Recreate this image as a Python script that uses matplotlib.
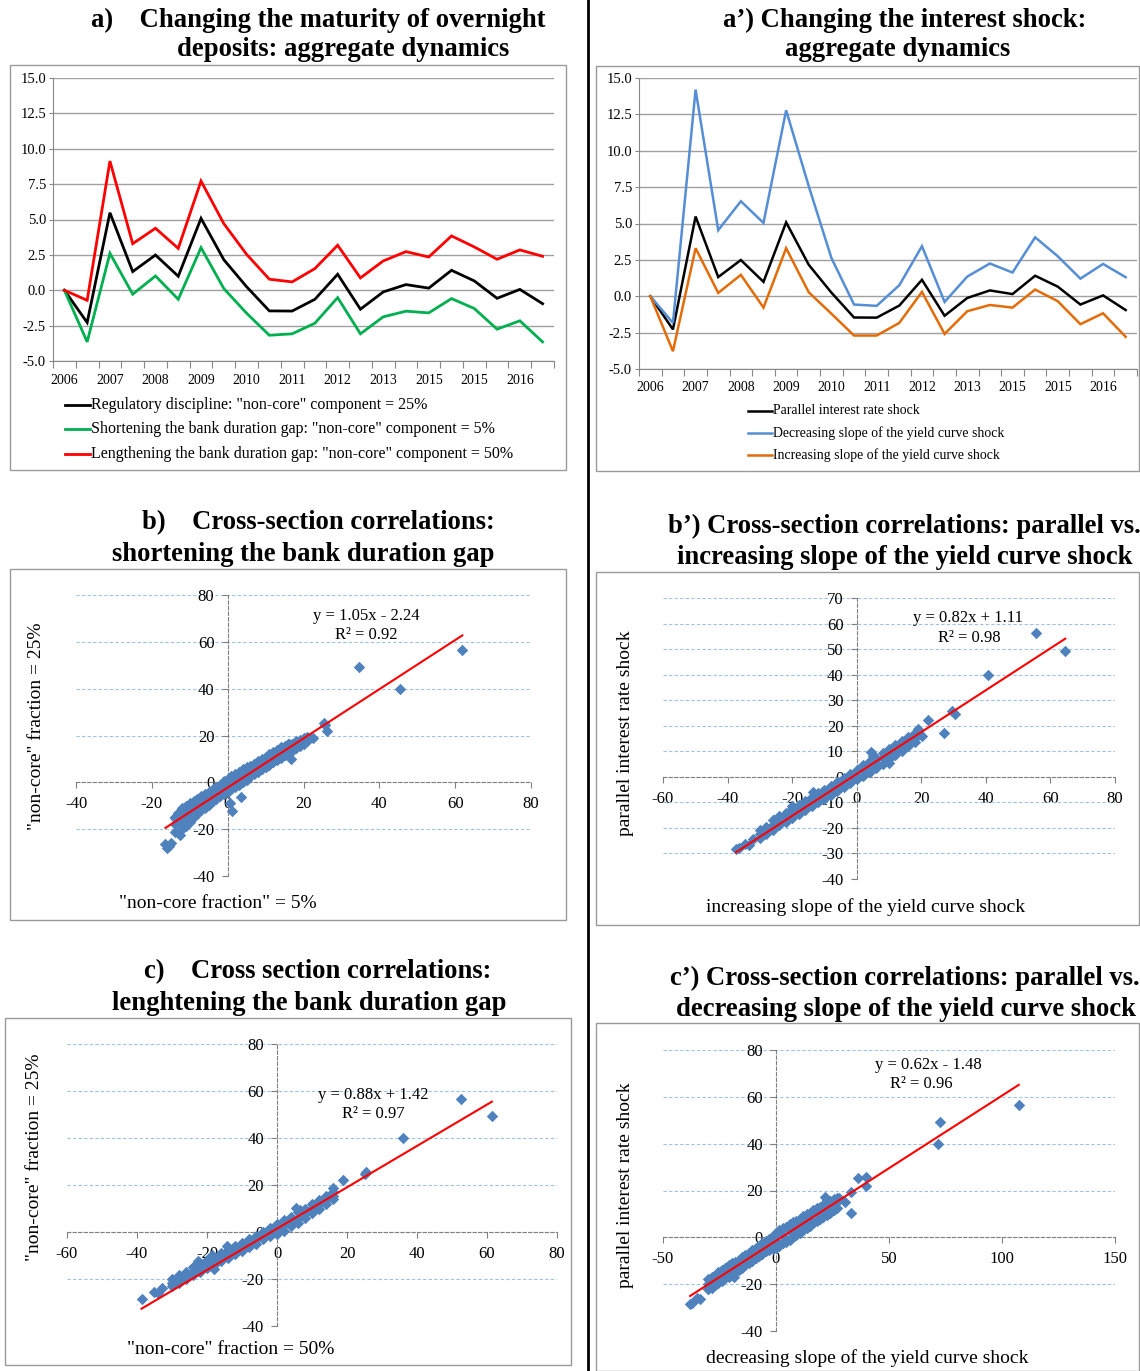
import matplotlib
matplotlib.use("Agg")
import matplotlib.pyplot as plt
from matplotlib.patches import Rectangle
from matplotlib.lines import Line2D

plt.rcParams['font.family'] = ['Liberation Serif', 'DejaVu Serif']

W, H = 1140, 1371
fig = plt.figure(figsize=(W / 100, H / 100), dpi=100)

# ---------------- data: aggregate dynamics ----------------
period_labels = ["2006", "", "2007", "", "2008", "", "2009", "", "2010", "", "2011", "",
                 "2012", "", "2013", "", "2015", "", "2015", "", "2016", ""]
regulatory_25 = [0.0, -2.28, 5.48, 1.32, 2.49, 0.99, 5.08, 2.16, 0.25, -1.46, -1.47, -0.64,
                 1.13, -1.34, -0.12, 0.40, 0.15, 1.41, 0.66, -0.57, 0.06, -0.95]
shortening_5 = [0.0, -3.65, 2.61, -0.28, 1.01, -0.64, 3.01, 0.12, -1.62, -3.18, -3.08, -2.33,
                -0.52, -3.08, -1.88, -1.48, -1.60, -0.59, -1.29, -2.75, -2.16, -3.65]
lengthening_50 = [0.0, -0.71, 9.13, 3.29, 4.38, 2.96, 7.72, 4.71, 2.54, 0.78, 0.59, 1.53,
                  3.18, 0.87, 2.07, 2.73, 2.35, 3.84, 3.06, 2.19, 2.85, 2.40]
decreasing_slope = [0.0, -1.83, 14.2, 4.54, 6.53, 5.04, 12.78, 7.56, 2.63, -0.57, -0.66, 0.76,
                    3.44, -0.39, 1.35, 2.25, 1.63, 4.05, 2.75, 1.21, 2.22, 1.31]
increasing_slope = [0.0, -3.78, 3.30, 0.23, 1.47, -0.78, 3.30, 0.27, -1.20, -2.70, -2.70, -1.83,
                    0.30, -2.59, -1.03, -0.60, -0.78, 0.46, -0.34, -1.92, -1.17, -2.79]
line_yticks = [-5.0, -2.5, 0.0, 2.5, 5.0, 7.5, 10.0, 12.5, 15.0]

legend_a = ['Regulatory discipline: "non-core" component = 25%',
            'Shortening the bank duration gap: "non-core" component = 5%',
            'Lengthening the bank duration gap: "non-core" component = 50%']
legend_a2 = ['Parallel interest rate shock',
             'Decreasing slope of the yield curve shock',
             'Increasing slope of the yield curve shock']

# ---------------- data: cross sections ----------------
# b) x: non-core 5%, y: non-core 25%
b_band_x = [-14, -13, -12, -11, -10, -9, -8, -7, -6, -5, -4, -3, -2, -1, 0, 1, 2, 3, 4, 5,
            6, 7, 8, 9, 10, 11, 12, 13, 14, 15, 16, 17, 18, 19, 20, 21]
b_band_lo = [-21, -21.5, -20, -18.5, -17, -15, -13.5, -12, -11, -9.5, -8, -7, -6, -5, -4, -3, -2, -1, 0, 1,
             2.5, 3.5, 4.5, 5.5, 6.5, 7.5, 8.5, 9.5, 10.5, 11.5, 12.5, 13.5, 14.5, 15.5, 16.5, 17.5]
b_band_mid = [-18, -17, -15.5, -14, -13, -11.5, -10.5, -9, -8, -7, -5.5, -4.5, -3.5, -2.5, -1.5, -0.5, 0.5, 1.5, 2.5, 3.5,
              4.5, 5.5, 6.5, 7.5, 8.5, 9.5, 10.5, 11.5, 12.5, 13.5, 14, 15, 16, 17, 18, 18.5]
b_band_hi = [-15, -13, -11, -10, -9, -8, -7, -6, -5, -4, -3, -2, -1, 0.5, 1.5, 2.5, 3.5, 4.5, 5.5, 6.5,
             7, 8, 9, 10, 11, 12, 13, 14, 15, 15.5, 16.5, 16.5, 17.5, 18, 19, 19.5]
b_extra_x = [-16.4, -15.9, -15.5, -15.0, -13.8, -12.5, 1.1, 3.5, 0.5, 16.1, 16.6, 21.8, 22.5, 25.3, 25.7, 26.1, 34.7, 45.4, 61.9]
b_extra_y = [-26.5, -28.2, -27.0, -26.0, -15.4, -22.5, -12.1, -6.4, -9.0, 16.4, 10.0, 18.8, 19.0, 25.5, 24.6, 21.8, 49.1, 39.9, 56.4]
b_fit = (1.05, -2.24)

# b') x: increasing slope, y: parallel
bp_band_x = [-30, -28, -26, -24, -22, -20, -18, -16, -14, -12, -10, -8, -6, -4, -2, 0, 2, 4, 6, 8,
             10, 12, 14, 16, 18]
bp_band_lo = [-24, -22.5, -21, -19, -17.5, -16, -14.5, -13, -11.5, -10, -8.5, -7, -5.5, -4, -2.5, -1, 0.5, 2, 3.5, 5,
              7, 8.5, 10, 12, 13.5]
bp_band_mid = [-22.5, -21, -19, -17.5, -16, -14.5, -13, -11.5, -10, -8.5, -7, -5.5, -4, -2.5, -1, 0.5, 2.5, 4, 5.5, 7.5,
               9, 10.5, 12, 13.5, 15]
bp_band_hi = [-21, -19.5, -17, -15.5, -14, -12.5, -11, -9.5, -8, -6.5, -5, -3.5, -2, -0.5, 1, 2.5, 4.5, 6, 7.5, 9.5,
              11, 12.5, 14, 15.5, 17]
bp_extra_x = [-37.4, -36.5, -34.5, -33.5, -32.0, -25.5, -20.0, -13.4, 4.3, 5.0, 10.0, 19.0, 20.2, 22.2, 27.1, 29.4, 30.3, 40.7, 55.4, 64.6]
bp_extra_y = [-28.3, -28.0, -26.2, -26.8, -24.5, -17.0, -11.5, -6.1, 9.9, 8.0, 5.6, 18.8, 16.0, 22.1, 17.0, 25.6, 24.7, 39.9, 56.4, 49.3]
bp_fit = (0.82, 1.11)

# c) x: non-core 50%, y: non-core 25%
c_band_x = [-30, -28, -26, -24, -22, -20, -18, -16, -14, -12, -10, -8, -6, -4, -2, 0, 2, 4, 6, 8,
            10, 12, 14, 16]
c_band_lo = [-23, -21.5, -20, -18.5, -17, -15.5, -14, -12.5, -11, -9.5, -8, -6.5, -5, -3, -1.5, -1, 0.5, 2.5, 4, 6,
             8, 10, 12, 14]
c_band_mid = [-21.5, -20, -18.5, -17, -15, -14, -12, -10.5, -9, -7.5, -6, -4.5, -3, -1.5, 0, 1.5, 3, 4.5, 6, 8,
              10, 12, 13.5, 15.5]
c_band_hi = [-20, -18.5, -17, -15, -13, -12, -10.5, -9, -7.5, -6, -4.5, -3, -1.5, 0, 1.5, 3.5, 5, 6.5, 8.5, 10,
             12, 13.5, 15.5, 17]
c_extra_x = [-38.7, -35.1, -34.0, -33.0, -29.6, -22.6, -18.6, -17.9, -14.2, 5.4, 6.5, 15.9, 18.8, 25.5, 25.0, 35.9, 52.5, 61.4]
c_extra_y = [-28.5, -25.7, -26.1, -24.0, -21.8, -12.3, -9.8, -15.7, -6.0, 10.4, 9.5, 18.6, 22.3, 25.7, 24.8, 40.1, 56.5, 49.5]
c_fit = (0.88, 1.42)

# c') x: decreasing slope, y: parallel
cp_band_x = [-30, -27, -24, -21, -18, -15, -12, -9, -6, -3, 0, 3, 6, 9, 12, 15, 18, 21, 24, 27]
cp_band_lo = [-22, -20.5, -18.5, -17, -15, -13, -11, -9, -7, -5.5, -4.5, -2.5, -1, 1, 3, 5, 7, 8.5, 10.5, 12.5]
cp_band_mid = [-20, -18.5, -16.5, -14.5, -12.5, -11, -9, -7, -5, -3, -1.5, 0.5, 2.5, 4.5, 6, 8, 10, 11.5, 13.5, 15]
cp_band_hi = [-18, -16.5, -14, -12, -10.5, -8.5, -6.5, -4.5, -2.5, -0.5, 2, 4, 5.5, 7, 9, 10.5, 12.5, 14, 15.5, 17]
cp_band2_x = [-28.5, -25.5, -22.5, -19.5, -16.5, -13.5, -10.5, -7.5, -4.5, -1.5, 1.5, 4.5, 7.5, 10.5,
              13.5, 16.5, 19.5, 22.5, 25.5]
cp_band2_lo = [-21.5, -19.5, -17.5, -16, -14, -12, -10, -8, -6, -5, -3.5, -2, 0, 2, 4, 6, 8, 9.5, 11.5]
cp_band2_hi = [-17, -15, -13, -11, -9.5, -7.5, -5.5, -3.5, -1.5, 0.5, 3, 4.5, 6.5, 8, 10, 11.5, 13, 15, 16.5]
cp_extra_x = [-38.0, -37.0, -34.9, -33.5, -30.0, -21.8, -18.5, 21.8, 22.5, 30.5, 28.0, 33.1, 33.4, 36.2, 39.7, 40.0, 71.8, 72.6, 107.4]
cp_extra_y = [-28.5, -28.0, -26.0, -26.5, -22.2, -12.8, -16.8, 17.4, 16.0, 15.2, 17.0, 10.2, 19.2, 25.2, 22.1, 25.9, 39.9, 49.4, 56.4]
cp_fit = (0.62, -1.48)

# ---------------- helpers ----------------
def add_ax(l, t, r, b):
    return fig.add_axes([l / W, 1 - b / H, (r - l) / W, (b - t) / H])


def frame(l, t, r, b):
    fig.add_artist(Rectangle((l / W, 1 - b / H), (r - l) / W, (b - t) / H,
                             transform=fig.transFigure, fill=False, ec='#9a9a9a', lw=1.0))


def ftext(x, y, s, **kw):
    fig.text(x / W, 1 - y / H, s, **kw)


TITLE_FS = 19.2
AXLABEL_FS = 14


def line_panel(rect, series, colors, lw):
    ax = add_ax(*rect)
    n = len(period_labels)
    for vals, c in zip(series, colors):
        ax.plot(range(n), vals, color=c, lw=lw, solid_joinstyle='miter', zorder=3)
    ax.set_xlim(-0.5, n - 0.5)
    ax.set_ylim(line_yticks[0], line_yticks[-1])
    ax.set_yticks(line_yticks)
    ax.set_yticklabels([f"{v:.1f}" for v in line_yticks])
    ax.set_xticks([i - 0.5 for i in range(n + 1)])
    ax.set_xticklabels([])
    ax.set_xticks(range(n), minor=True)
    ax.set_xticklabels(period_labels, minor=True)
    ax.tick_params(axis='x', which='major', length=5, color='#888888', direction='out')
    ax.tick_params(axis='x', which='minor', length=0, labelsize=10, pad=9)
    ax.tick_params(axis='y', length=3, color='#888888', labelsize=10.5, pad=2)
    ax.yaxis.grid(True, color='#a0a0a0', lw=1.0)
    ax.set_axisbelow(True)
    for s in ['top', 'right']:
        ax.spines[s].set_visible(False)
    for s in ['left', 'bottom']:
        ax.spines[s].set_color('#888888')
    return ax


def scatter_panel(rect, xs_list, ys_list, fit, xlim, ylim, xticks, yticks,
                  eq, eq_pos, r2, r2_pos):
    ax = add_ax(*rect)
    allx, ally = [], []
    for xs, ys in zip(xs_list, ys_list):
        allx += list(xs)
        ally += list(ys)
    ax.scatter(allx, ally, marker='D', s=34, color='#4F81BD', linewidths=0, zorder=3)
    x0, x1 = min(allx), max(allx)
    ax.plot([x0, x1], [fit[0] * x0 + fit[1], fit[0] * x1 + fit[1]], color='#FF0000', lw=1.5, zorder=4)
    ax.set_xlim(*xlim)
    ax.set_ylim(*ylim)
    ax.set_xticks(xticks)
    ax.set_yticks(yticks)
    ax.set_xticklabels([str(v) for v in xticks])
    ax.set_yticklabels([str(v) for v in yticks])
    ax.yaxis.grid(True, color='#9DC3E6', lw=0.8, ls=(0, (3, 2)))
    ax.set_axisbelow(True)
    for s in ['top', 'right']:
        ax.spines[s].set_visible(False)
    ax.spines['left'].set_position(('data', 0))
    ax.spines['bottom'].set_position(('data', 0))
    for s in ['left', 'bottom']:
        ax.spines[s].set_color('#808080')
        ax.spines[s].set_linestyle((0, (3, 2)))
        ax.spines[s].set_linewidth(0.8)
    ax.tick_params(length=4, color='#808080', labelsize=12, direction='out')
    ax.tick_params(axis='x', pad=6)
    ax.tick_params(axis='y', pad=5.5)
    ax.patch.set_alpha(0)
    ftext(eq_pos[0], eq_pos[1], eq, ha='center', va='center', fontsize=12)
    ftext(r2_pos[0], r2_pos[1], r2, ha='center', va='center', fontsize=12)
    return ax


# ---------------- divider ----------------
fig.add_artist(Line2D([588 / W, 588 / W], [0, 1], color='black', lw=2, transform=fig.transFigure))

# ---------------- panel a ----------------
ftext(318, 20, "a)    Changing the maturity of overnight", ha='center', va='center', fontsize=TITLE_FS, fontweight='bold')
ftext(343, 50, "deposits: aggregate dynamics", ha='center', va='center', fontsize=TITLE_FS, fontweight='bold')
frame(10, 65, 566, 470)
cols_a = ['#000000', '#00B050', '#FF0000']
line_panel((53, 78, 554, 361), [regulatory_25, shortening_5, lengthening_50], cols_a, 2.0)
for i, (lab, c) in enumerate(zip(legend_a, cols_a)):
    y = [405, 429, 454][i]
    fig.add_artist(Line2D([65 / W, 90 / W], [1 - y / H] * 2, color=c, lw=2.0, transform=fig.transFigure))
    ftext(91, y, lab, ha='left', va='center', fontsize=11.5)

# ---------------- panel a' ----------------
ftext(905, 20, "a\u2019) Changing the interest shock:", ha='center', va='center', fontsize=TITLE_FS, fontweight='bold')
ftext(898, 50, "aggregate dynamics", ha='center', va='center', fontsize=TITLE_FS, fontweight='bold')
frame(596, 66, 1139, 471)
cols_a2 = ['#000000', '#558ED5', '#E36C09']
line_panel((639, 78, 1137, 369), [regulatory_25, decreasing_slope, increasing_slope], cols_a2, 1.8)
for i, (lab, c) in enumerate(zip(legend_a2, cols_a2)):
    y = [411, 433, 455][i]
    fig.add_artist(Line2D([748 / W, 772 / W], [1 - y / H] * 2, color=c, lw=1.8, transform=fig.transFigure))
    ftext(773, y, lab, ha='left', va='center', fontsize=9.9)

# ---------------- panel b ----------------
ftext(318, 523, "b)    Cross-section correlations:", ha='center', va='center', fontsize=TITLE_FS, fontweight='bold')
ftext(303, 554, "shortening the bank duration gap", ha='center', va='center', fontsize=TITLE_FS, fontweight='bold')
frame(10, 569, 566, 920)
scatter_panel((76, 595, 531, 876),
              [b_band_x, b_band_x, b_band_x, b_extra_x], [b_band_lo, b_band_mid, b_band_hi, b_extra_y],
              b_fit, (-40, 80), (-40, 80), [-40, -20, 0, 20, 40, 60, 80], [-40, -20, 0, 20, 40, 60, 80],
              "y = 1.05x - 2.24", (366, 616), "R\u00b2 = 0.92", (366, 635))
ftext(218, 903, '"non-core fraction" = 5%', ha='center', va='center', fontsize=AXLABEL_FS)
ftext(37, 726, '"non-core" fraction = 25%', ha='center', va='center', fontsize=AXLABEL_FS, rotation=90)

# ---------------- panel b' ----------------
ftext(904, 526, "b\u2019) Cross-section correlations: parallel vs.", ha='center', va='center', fontsize=TITLE_FS, fontweight='bold')
ftext(905, 557, "increasing slope of the yield curve shock", ha='center', va='center', fontsize=TITLE_FS, fontweight='bold')
frame(596, 572, 1139, 925)
scatter_panel((663, 598, 1115, 879),
              [bp_band_x, bp_band_x, bp_band_x, bp_extra_x], [bp_band_lo, bp_band_mid, bp_band_hi, bp_extra_y],
              bp_fit, (-60, 80), (-40, 70), [-60, -40, -20, 0, 20, 40, 60, 80],
              [-40, -30, -20, -10, 0, 10, 20, 30, 40, 50, 60, 70],
              "y = 0.82x + 1.11", (968, 618), "R\u00b2 = 0.98", (969, 638))
ftext(866, 907, "increasing slope of the yield curve shock", ha='center', va='center', fontsize=AXLABEL_FS)
ftext(625, 733, "parallel interest rate shock", ha='center', va='center', fontsize=AXLABEL_FS, rotation=90)

# ---------------- panel c ----------------
ftext(318, 972, "c)    Cross section correlations:", ha='center', va='center', fontsize=TITLE_FS, fontweight='bold')
ftext(309, 1003, "lenghtening the bank duration gap", ha='center', va='center', fontsize=TITLE_FS, fontweight='bold')
frame(5, 1018, 571, 1365)
scatter_panel((67, 1044, 557, 1326),
              [c_band_x, c_band_x, c_band_x, c_extra_x], [c_band_lo, c_band_mid, c_band_hi, c_extra_y],
              c_fit, (-60, 80), (-40, 80), [-60, -40, -20, 0, 20, 40, 60, 80], [-40, -20, 0, 20, 40, 60, 80],
              "y = 0.88x + 1.42", (373, 1095), "R\u00b2 = 0.97", (373, 1114))
ftext(231, 1349, '"non-core" fraction = 50%', ha='center', va='center', fontsize=AXLABEL_FS)
ftext(35, 1157, '"non-core" fraction = 25%', ha='center', va='center', fontsize=AXLABEL_FS, rotation=90)

# ---------------- panel c' ----------------
ftext(905, 978, "c\u2019) Cross-section correlations: parallel vs.", ha='center', va='center', fontsize=TITLE_FS, fontweight='bold')
ftext(906, 1009, "decreasing slope of the yield curve shock", ha='center', va='center', fontsize=TITLE_FS, fontweight='bold')
frame(596, 1023, 1139, 1371)
scatter_panel((663, 1050, 1115, 1331),
              [cp_band_x, cp_band_x, cp_band_x, cp_band2_x, cp_band2_x, cp_extra_x],
              [cp_band_lo, cp_band_mid, cp_band_hi, cp_band2_lo, cp_band2_hi, cp_extra_y],
              cp_fit, (-50, 150), (-40, 80), [-50, 0, 50, 100, 150], [-40, -20, 0, 20, 40, 60, 80],
              "y = 0.62x - 1.48", (928, 1065), "R\u00b2 = 0.96", (921, 1084))
ftext(867, 1358, "decreasing slope of the yield curve shock", ha='center', va='center', fontsize=AXLABEL_FS)
ftext(625, 1185, "parallel interest rate shock", ha='center', va='center', fontsize=AXLABEL_FS, rotation=90)

fig.savefig("out.png", dpi=100)
